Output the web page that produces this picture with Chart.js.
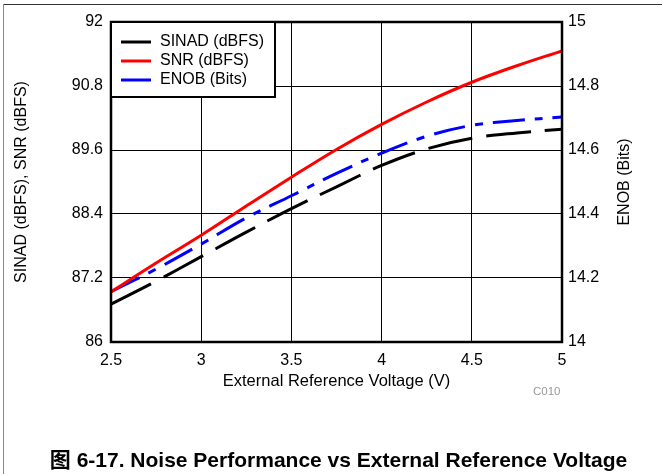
<!DOCTYPE html>
<html>
<head>
<meta charset="utf-8">
<script src="https://cdn.jsdelivr.net/npm/chart.js@4/dist/chart.umd.min.js"></script>
<style>
  body { margin: 0; background: #fff; }
  #wrap { position: relative; width: 662px; height: 474px; overflow: hidden; font-family: "Liberation Sans", Arial, sans-serif; }
  #chart { position: absolute; left: 0; top: 0; }
  .frameTop { position: absolute; left: 3px; top: 4px; width: 659px; height: 0; border-top: 1.5px solid #333; }
  .frameLeft { position: absolute; left: 3px; top: 4px; width: 0; height: 470px; border-left: 1.5px solid #888; }
  #code { position: absolute; left: 533px; top: 385px; font-size: 11.5px; color: #999; }
  #caption { position: absolute; left: 0; width: 677px; top: 443px; text-align: center; font-size: 21px; font-weight: bold; color: #000;
    font-family: "Liberation Sans", Arial, "Noto Sans CJK SC", sans-serif; }
</style>
</head>
<body>
<div id="wrap">
  <canvas id="chart" width="662" height="474"></canvas>
  <div class="frameTop"></div>
  <div class="frameLeft"></div>
  <div id="code">C010</div>
  <div id="caption">图 6-17. Noise Performance vs External Reference Voltage</div>
</div>
<script>
// Data
const voltage = [2.5, 2.75, 3, 3.25, 3.5, 3.75, 4, 4.25, 4.5, 4.75, 5];
const sinad = [86.71, 87.14, 87.6, 88.06, 88.5, 88.91, 89.31, 89.62, 89.82, 89.92, 89.99];
const snr = [86.94, 87.48, 88.0, 88.55, 89.09, 89.61, 90.08, 90.5, 90.87, 91.18, 91.46];
const enob = [14.157, 14.228, 14.306, 14.388, 14.457, 14.527, 14.59, 14.643, 14.677, 14.692, 14.703];

const leftTicks = [86, 87.2, 88.4, 89.6, 90.8, 92];
const rightTicks = [14, 14.2, 14.4, 14.6, 14.8, 15];
const xTicks = [2.5, 3, 3.5, 4, 4.5, 5];

const FONT = '"Liberation Sans", Arial, sans-serif';

function toPoints(values) {
  return voltage.map((v, i) => ({ x: v, y: values[i] }));
}

// plain labels: 3 not 3.0, 15 not 15.0
const plainLabel = (v) => String(Math.round(v * 10) / 10);

// legend box, plot frame and right axis title
const extras = {
  id: 'extras',
  afterDraw(chart) {
    const { ctx, chartArea: a } = chart;
    ctx.save();

    ctx.strokeStyle = '#000';
    ctx.lineWidth = 2.5;
    ctx.strokeRect(a.left, a.top, a.right - a.left, a.bottom - a.top);

    // legend
    const box = { x: a.left, y: a.top, w: 164, h: 75 };
    ctx.fillStyle = '#fff';
    ctx.fillRect(box.x, box.y, box.w, box.h);
    ctx.lineWidth = 2;
    ctx.strokeRect(box.x, box.y, box.w, box.h);
    ctx.font = '16px ' + FONT;
    ctx.textBaseline = 'middle';
    chart.data.datasets.forEach((ds, i) => {
      const y = a.top + 20 + i * 19;
      ctx.strokeStyle = ds.borderColor;
      ctx.lineWidth = 3;
      ctx.setLineDash([]);
      ctx.beginPath();
      ctx.moveTo(a.left + 10, y);
      ctx.lineTo(a.left + 40, y);
      ctx.stroke();
      ctx.fillStyle = '#000';
      ctx.fillText(ds.label, a.left + 49, y);
    });

    // right axis title
    ctx.translate(625, (a.top + a.bottom) / 2);
    ctx.rotate(-Math.PI / 2);
    ctx.textAlign = 'center';
    ctx.fillStyle = '#000';
    ctx.fillText('ENOB (Bits)', 0, 0);
    ctx.restore();
  }
};

new Chart(document.getElementById('chart'), {
  type: 'line',
  data: {
    datasets: [
      {
        label: 'SINAD (dBFS)',
        data: toPoints(sinad),
        yAxisID: 'y',
        borderColor: '#000000',
        borderWidth: 3,
        borderDash: [45, 14],
        pointRadius: 0,
        tension: 0.35
      },
      {
        label: 'SNR (dBFS)',
        data: toPoints(snr),
        yAxisID: 'y',
        borderColor: '#ff0000',
        borderWidth: 3,
        pointRadius: 0,
        tension: 0.35
      },
      {
        label: 'ENOB (Bits)',
        data: toPoints(enob),
        yAxisID: 'y1',
        borderColor: '#0000ff',
        borderWidth: 3,
        borderDash: [32, 10, 8, 10],
        pointRadius: 0,
        tension: 0.35
      }
    ]
  },
  options: {
    responsive: false,
    animation: false,
    devicePixelRatio: 1,
    layout: { padding: { top: 22, left: 0, right: 0, bottom: 0 } },
    plugins: {
      legend: { display: false },
      tooltip: { enabled: false }
    },
    scales: {
      x: {
        type: 'linear',
        min: 2.5,
        max: 5,
        afterBuildTicks: (s) => { s.ticks = xTicks.map(v => ({ value: v })); },
        afterFit: (s) => { s.height = 132; },
        grid: { color: '#000', lineWidth: 1, drawTicks: false },
        border: { display: false },
        ticks: { color: '#000', font: { family: FONT, size: 16 }, padding: 9, callback: plainLabel },
        title: {
          display: true,
          text: 'External Reference Voltage (V)',
          color: '#000',
          font: { family: FONT, size: 16.5 },
          padding: { top: 0, bottom: 83 }
        }
      },
      y: {
        position: 'left',
        min: 86,
        max: 92,
        afterBuildTicks: (s) => { s.ticks = leftTicks.map(v => ({ value: v })); },
        afterFit: (s) => { s.width = 111; },
        grid: { color: '#000', lineWidth: 1, drawTicks: false },
        border: { display: false },
        ticks: { color: '#000', font: { family: FONT, size: 16 }, padding: 8, callback: plainLabel },
        title: {
          display: true,
          text: 'SINAD (dBFS), SNR (dBFS)',
          color: '#000',
          font: { family: FONT, size: 16 },
          padding: { top: 12, bottom: 0 }
        }
      },
      y1: {
        position: 'right',
        min: 14,
        max: 15,
        afterBuildTicks: (s) => { s.ticks = rightTicks.map(v => ({ value: v })); },
        afterFit: (s) => { s.width = 100; },
        grid: { display: false, drawTicks: false },
        border: { display: false },
        ticks: { color: '#000', font: { family: FONT, size: 16 }, padding: 6, callback: plainLabel }
      }
    }
  },
  plugins: [extras]
});
</script>
</body>
</html>
